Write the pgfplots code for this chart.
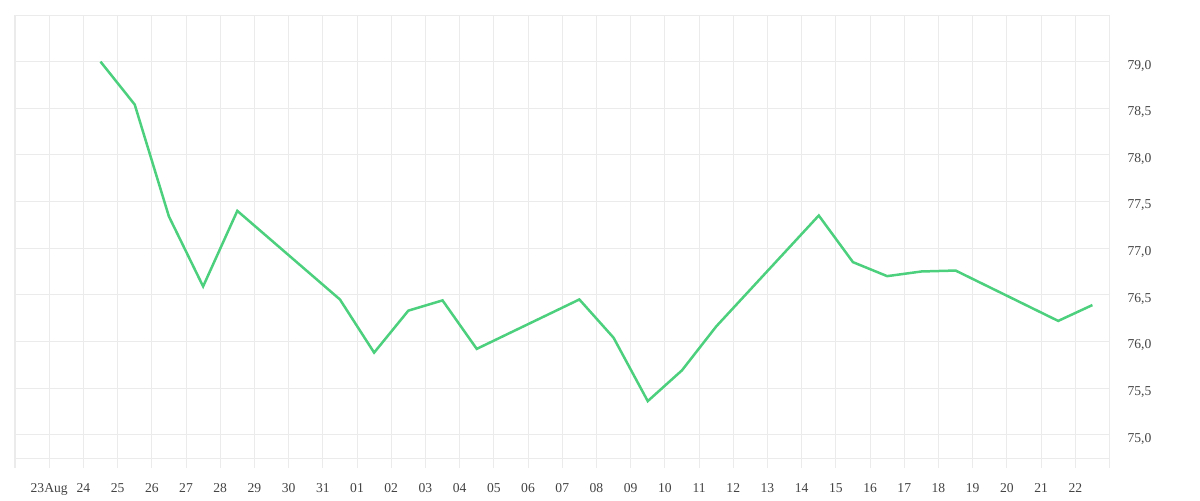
\documentclass[border=0pt]{standalone}
\usepackage{fontspec}
\setmainfont{Liberation Serif}
\usepackage{pgfplots}
\pgfplotsset{compat=1.18}

\definecolor{gridc}{HTML}{EBEBEB}
\definecolor{linec}{HTML}{4CD07D}
\definecolor{labc}{HTML}{444444}

% day index: 0 = 23 Aug, points sit at noon of each day
\pgfplotstableread{
x y
1.5 79.00
2.5 78.54
3.5 77.34
4.5 76.59
5.5 77.40
8.5 76.45
9.5 75.88
10.5 76.33
11.5 76.44
12.5 75.92
15.5 76.45
16.5 76.04
17.5 75.36
18.5 75.69
19.5 76.16
22.5 77.35
23.5 76.85
24.5 76.70
25.5 76.75
26.5 76.76
29.5 76.22
30.5 76.39
}\rates

\begin{document}
\begin{tikzpicture}
\useasboundingbox (-7.5pt,-21pt) rectangle (592.5pt,229pt);
\begin{axis}[
    at={(0,0)}, anchor=south west,
    scale only axis,
    width=547.25pt, height=221.5pt,
    xmin=-1, xmax=31,
    ymin=74.75, ymax=79.5,
    xtick={-1,0,...,31},
    xticklabels={{},23Aug,24,25,26,27,28,29,30,31,01,02,03,04,05,06,07,08,09,10,11,12,13,14,15,16,17,18,19,20,21,22,{}},
    ytick={75,75.5,76,76.5,77,77.5,78,78.5,79},
    yticklabel pos=right,
    xtick pos=bottom,
    tick align=outside,
    major tick length=5pt,
    x tick style={draw=gridc, line width=0.5pt},
    y tick style={draw=none},
    grid=major,
    major grid style={draw=gridc, line width=0.5pt},
    axis line style={draw=gridc, line width=0.5pt},
    tick label style={font=\fontsize{6.8pt}{8pt}\selectfont, text=labc},
    /pgf/number format/assume math mode=true,
    /pgf/number format/use comma,
    /pgf/number format/fixed,
    /pgf/number format/fixed zerofill,
    /pgf/number format/precision=1,
    yticklabel style={anchor=west, xshift=0.5pt, yshift=-2pt},
    xticklabel style={anchor=base, yshift=-12pt},
]
\addplot[linec, line width=1.25pt] table[x=x, y=y] {\rates};
\end{axis}
\end{tikzpicture}
\end{document}
